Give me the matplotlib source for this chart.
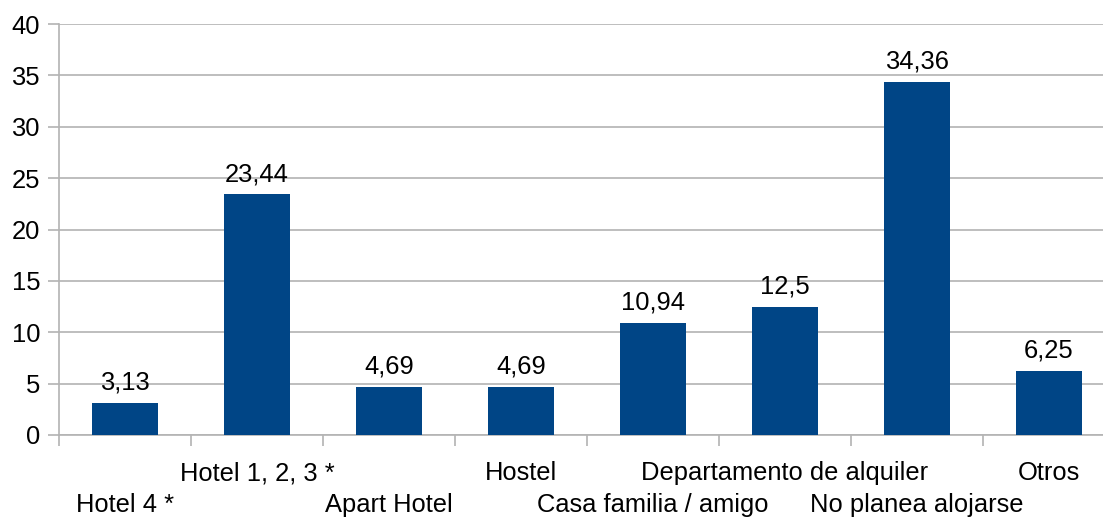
import matplotlib
matplotlib.use("Agg")
import matplotlib.pyplot as plt
from matplotlib.transforms import blended_transform_factory

categories = ["Hotel 4 *", "Hotel 1, 2, 3 *", "Apart Hotel", "Hostel",
              "Casa familia / amigo", "Departamento de alquiler",
              "No planea alojarse", "Otros"]
values = [3.13, 23.44, 4.69, 4.69, 10.94, 12.5, 34.36, 6.25]
value_labels = ["3,13", "23,44", "4,69", "4,69", "10,94", "12,5", "34,36", "6,25"]
yticks = [0, 5, 10, 15, 20, 25, 30, 35, 40]

plt.rcParams['font.family'] = ['Liberation Sans', 'DejaVu Sans']
FS = 18.4
GRID = '#b3b3b3'
BAR = '#004586'

W, H = 1103, 519
fig = plt.figure(figsize=(W/100, H/100), dpi=100)
ax = fig.add_axes([59/W, 84/H, 1056/W, 411/H])

x = list(range(len(categories)))
ax.bar(x, values, width=0.5, color=BAR, zorder=3)
ax.set_xlim(-0.5, len(categories) - 0.5)
ax.set_ylim(0, 40)
ax.set_yticks(yticks)
ax.set_yticklabels([str(t) for t in yticks], fontsize=FS)
ax.yaxis.grid(True, color=GRID, linewidth=1.2, zorder=0)
ax.tick_params(axis='y', length=11*0.72, width=1.2, color=GRID, pad=8*0.72)

ax.set_xticks([i - 0.5 for i in range(len(categories) + 1)])
ax.set_xticklabels([])
ax.tick_params(axis='x', length=11*0.72, width=1.2, color=GRID)

for s in ['top', 'right']:
    ax.spines[s].set_visible(False)
for s in ['left', 'bottom']:
    ax.spines[s].set_color(GRID)
    ax.spines[s].set_linewidth(1.2)

for i, (v, lab) in enumerate(zip(values, value_labels)):
    ax.annotate(lab, (i, v), xytext=(0, 13*0.72), textcoords='offset points',
                ha='center', va='baseline', fontsize=FS)

trans = blended_transform_factory(ax.transData, fig.transFigure)
for i, c in enumerate(categories):
    yb = 1 - 480/H if i % 2 == 1 else 1 - 512/H
    ax.text(i, yb, c, transform=trans, ha='center', va='baseline', fontsize=FS,
            clip_on=False)

fig.savefig("out.png", dpi=100)
